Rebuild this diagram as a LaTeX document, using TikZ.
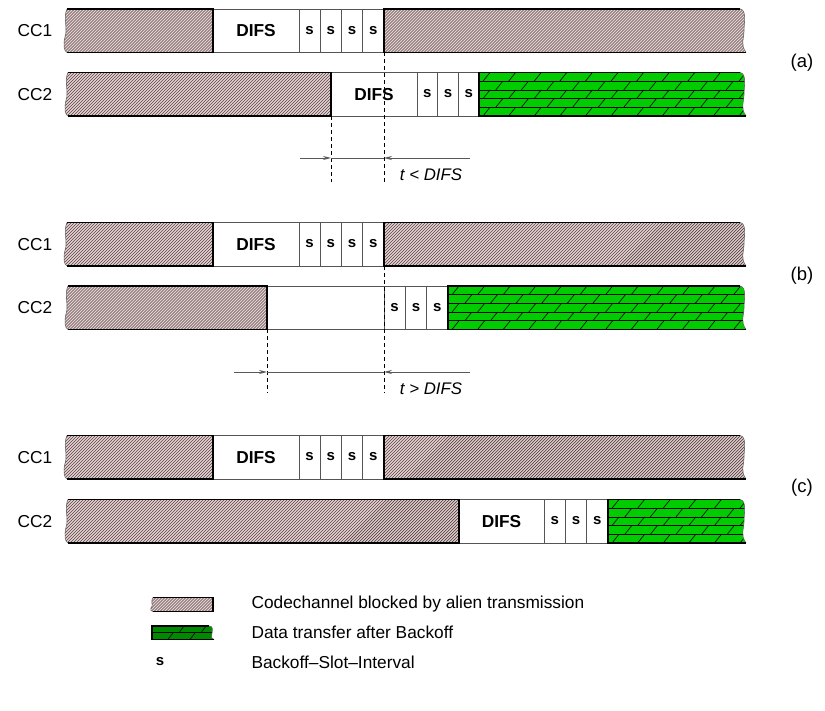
\documentclass[tikz,border=0pt]{standalone}
\usepackage{fontspec}
\setmainfont{Liberation Sans}
\usetikzlibrary{arrows.meta}

\definecolor{hatchbg}{HTML}{E6D2D2}
\definecolor{hatchln}{HTML}{564444}
\definecolor{databar}{HTML}{00CC00}
\definecolor{datakey}{HTML}{008A00}
\definecolor{boxline}{HTML}{555555}

\tikzset{
  hatchline/.style={line width=0.7pt, hatchln},
  heavy/.style={line width=1.7pt, black},
  light/.style={line width=0.7pt, boxline},
  wavy/.style={line width=0.6pt, black!60},
  brick/.style={line width=0.6pt, black},
  timing/.style={line width=0.9pt, black!65},
  marker/.style={line width=0.7pt, black, dash pattern=on 4pt off 3pt},
  tip/.style={-{Stealth[length=8pt,width=4pt]}},
  lbl/.style={font=\fontsize{17.3}{20}\selectfont},
  panel/.style={font=\fontsize{18.5}{21}\selectfont},
  slotlbl/.style={font=\fontsize{15}{17}\selectfont\bfseries},
  difslbl/.style={font=\fontsize{17.3}{20}\selectfont\bfseries},
  tlbl/.style={font=\fontsize{16.8}{19}\selectfont\itshape},
}

% wavy left end, from (x,top) down to (x,top+43.5)
\newcommand\leftwave[2]{(#1,#2) .. controls (#1-4,#2+8) and (#1+1,#2+20) .. (#1-2,#2+28) .. controls (#1-4,#2+36) and (#1-3,#2+42) .. (#1,#2+43.5)}
% wavy right end, from (x,top) down to (x+6,top+43.5)
\newcommand\rightwave[2]{(#1,#2) .. controls (#1+7,#2+1) and (#1+4,#2+14) .. (#1+4,#2+22) .. controls (#1+4,#2+30) and (#1,#2+35) .. (#1+6,#2+43.5)}

% diagonal hatching of a clipped band, top #1, height #2
\newcommand\hatchband[2]{%
  \foreach \xx in {10,13,...,760}
    \draw[hatchline] (\xx,#1+#2) -- ++(#2,-#2);
}

% blocked channel, wavy start #1, straight end #2, top #3
\newcommand\blockedleft[3]{%
  \begin{scope}
    \fill[hatchbg] \leftwave{#1}{#3} -- (#2,#3+43.5) -- (#2,#3) -- cycle;
    \clip \leftwave{#1}{#3} -- (#2,#3+43.5) -- (#2,#3) -- cycle;
    \hatchband{#3}{43.5}
  \end{scope}
  \draw[wavy] \leftwave{#1}{#3};
  \draw[heavy] (#1,#3) -- (#2,#3) -- (#2,#3+43.5) -- (#1,#3+43.5);
}
% blocked channel, straight start #1, wavy end #2, top #3
\newcommand\blockedright[3]{%
  \begin{scope}
    \fill[hatchbg] (#1,#3) -- \rightwave{#2}{#3} -- (#1,#3+43.5) -- cycle;
    \clip (#1,#3) -- \rightwave{#2}{#3} -- (#1,#3+43.5) -- cycle;
    \hatchband{#3}{43.5}
  \end{scope}
  \draw[wavy] \rightwave{#2}{#3};
  \draw[heavy] (#2,#3) -- (#1,#3) -- (#1,#3+43.5) -- (#2+6,#3+43.5);
}
% data transfer, straight start #1, wavy end #2, top #3
\newcommand\datatransfer[3]{%
  \begin{scope}
    \fill[databar] (#1,#3) -- \rightwave{#2}{#3} -- (#1,#3+43.5) -- cycle;
    \clip (#1,#3) -- \rightwave{#2}{#3} -- (#1,#3+43.5) -- cycle;
    \foreach \k in {1,...,4}
      \draw[brick] (#1,#3+\k*8.7) -- (#2+10,#3+\k*8.7);
    \foreach \r in {0,...,4}
      \foreach \xx in {0,25.6,...,300}
        \draw[brick] ({#1+\xx+mod(\r,2)*12.8+4},{#3+(\r+1)*8.7}) -- ++(7,-8.7);
  \end{scope}
  \draw[wavy] \rightwave{#2}{#3};
  \draw[heavy] (#2,#3) -- (#1,#3) -- (#1,#3+43.5) -- (#2+6,#3+43.5);
}
% backoff slots: name prefix #1, from #2 to #3, top #4, count #5
\newcommand\slotrow[5]{%
  \foreach \i in {1,...,#5} {
    \pgfmathsetmacro\sa{#2+(\i-1)*(#3-#2)/#5}
    \pgfmathsetmacro\sb{#2+\i*(#3-#2)/#5}
    \draw[light] (\sa,#4) rectangle (\sb,#4+43.5);
    \node[slotlbl] (#1-\i) at ({(\sa+\sb)/2},#4+21.5) {s};
  }
}

\begin{document}
\begin{tikzpicture}[x=1pt,y=-1pt]
\useasboundingbox (0,0) rectangle (825,711);

% ---------- (a) ----------
\draw[light] (213,9) rectangle (299,52.5);
\node[difslbl] (a1difs) at (256,31) {DIFS};
\slotrow{a1s}{299}{384}{9}{4}
\blockedleft{67}{213}{9}
\blockedright{384}{740}{9}

\draw[light] (331,72.5) rectangle (417,116);
\node[difslbl] (a2difs) at (374,94.5) {DIFS};
\slotrow{a2s}{417}{479}{72.5}{3}
\blockedleft{68}{331}{72.5}
\datatransfer{479}{740}{72.5}

\node[lbl] (a1) at (35,31) {CC1};
\node[lbl] (a2) at (35,94.5) {CC2};
\node[panel] (alab) at (802,63) {(a)};

\coordinate (aend2) at (331,116);
\coordinate (aend1) at (384,52.5);
\coordinate (afoot2) at (331,182);
\coordinate (afoot1) at (384,182);
\coordinate (am2) at (331,158);
\coordinate (am1) at (384,158);
\coordinate (aleft) at (300,158);
\coordinate (aright) at (470,158);
\draw[marker] (aend2) -- (afoot2);
\draw[marker] (aend1) -- (afoot1);
\draw[timing,tip] (aleft) -- (am2);
\draw[timing] (am2) -- (am1);
\draw[timing,tip] (aright) -- (am1);
\node[tlbl] (at) at (431,174.5) {t < DIFS};

% ---------- (b) ----------
\draw[light] (213,222.5) rectangle (299,266);
\node[difslbl] (b1difs) at (256,244.5) {DIFS};
\slotrow{b1s}{299}{384}{222.5}{4}
\blockedleft{67}{213}{222.5}
\blockedright{384}{740}{222.5}

\draw[light] (267,286) rectangle (384,329.5);
\slotrow{b2s}{384}{448}{286}{3}
\blockedleft{68}{267}{286}
\datatransfer{448}{740}{286}

\node[lbl] (b1) at (35,244.5) {CC1};
\node[lbl] (b2) at (35,308) {CC2};
\node[panel] (blab) at (802,276) {(b)};

\coordinate (bend2) at (267,329.5);
\coordinate (bend1) at (384,266);
\coordinate (bfoot2) at (267,393);
\coordinate (bfoot1) at (384,393);
\coordinate (bm2) at (267,372);
\coordinate (bm1) at (384,372);
\coordinate (bleft) at (234,372);
\coordinate (bright) at (470,372);
\draw[marker] (bend2) -- (bfoot2);
\draw[marker] (bend1) -- (bfoot1);
\draw[timing,tip] (bleft) -- (bm2);
\draw[timing] (bm2) -- (bm1);
\draw[timing,tip] (bright) -- (bm1);
\node[tlbl] (bt) at (431,388.5) {t > DIFS};

% ---------- (c) ----------
\draw[light] (213,435.5) rectangle (299,479);
\node[difslbl] (c1difs) at (256,457.5) {DIFS};
\slotrow{c1s}{299}{384}{435.5}{4}
\blockedleft{67}{213}{435.5}
\blockedright{384}{740}{435.5}

\draw[light] (459,499.5) rectangle (544,543);
\node[difslbl] (c2difs) at (501.5,521.5) {DIFS};
\slotrow{c2s}{544}{608}{499.5}{3}
\blockedleft{68}{459}{499.5}
\datatransfer{608}{740}{499.5}

\node[lbl] (c1) at (35,457.5) {CC1};
\node[lbl] (c2) at (35,521.5) {CC2};
\node[panel] (clab) at (802,488) {(c)};

% ---------- key ----------
\begin{scope}
  \fill[hatchbg] (153,597.5) .. controls (150,601) and (154,606) .. (151,608) .. controls (150,610) and (151,611) .. (153,611.5) -- (213,611.5) -- (213,597.5) -- cycle;
  \clip (153,597.5) .. controls (150,601) and (154,606) .. (151,608) .. controls (150,610) and (151,611) .. (153,611.5) -- (213,611.5) -- (213,597.5) -- cycle;
  \foreach \xx in {130,133,...,220}
    \draw[hatchline] (\xx,611.5) -- ++(14,-14);
\end{scope}
\draw[wavy] (153,597.5) .. controls (150,601) and (154,606) .. (151,608) .. controls (150,610) and (151,611) .. (153,611.5);
\draw[heavy] (153,597.5) -- (213,597.5) -- (213,611.5) -- (153,611.5);
\node[lbl,anchor=west] (k1) at (248,604.5) {Codechannel blocked by alien transmission};

\begin{scope}
  \fill[datakey] (152,626) -- (209,626) .. controls (214,626) and (212,631) .. (212,633) .. controls (212,636) and (210,638) .. (214,639.5) -- (152,639.5) -- cycle;
  \clip (152,626) -- (209,626) .. controls (214,626) and (212,631) .. (212,633) .. controls (212,636) and (210,638) .. (214,639.5) -- (152,639.5) -- cycle;
  \draw[brick] (152,632.75) -- (220,632.75);
  \foreach \xx in {0,22,...,66} {
    \draw[brick] ({152+\xx+16},639.5) -- ++(5,-6.75);
    \draw[brick] ({152+\xx+27},632.75) -- ++(5,-6.75);
  }
\end{scope}
\draw[wavy] (209,626) .. controls (214,626) and (212,631) .. (212,633) .. controls (212,636) and (210,638) .. (214,639.5);
\draw[heavy] (209,626) -- (152,626) -- (152,639.5) -- (214,639.5);
\node[lbl,anchor=west] (k2) at (248,632.5) {Data transfer after Backoff};

\node[slotlbl] (k3s) at (160,662) {s};
\node[lbl,anchor=west] (k3) at (248,662) {Backoff\textendash Slot\textendash Interval};
\end{tikzpicture}
\end{document}
